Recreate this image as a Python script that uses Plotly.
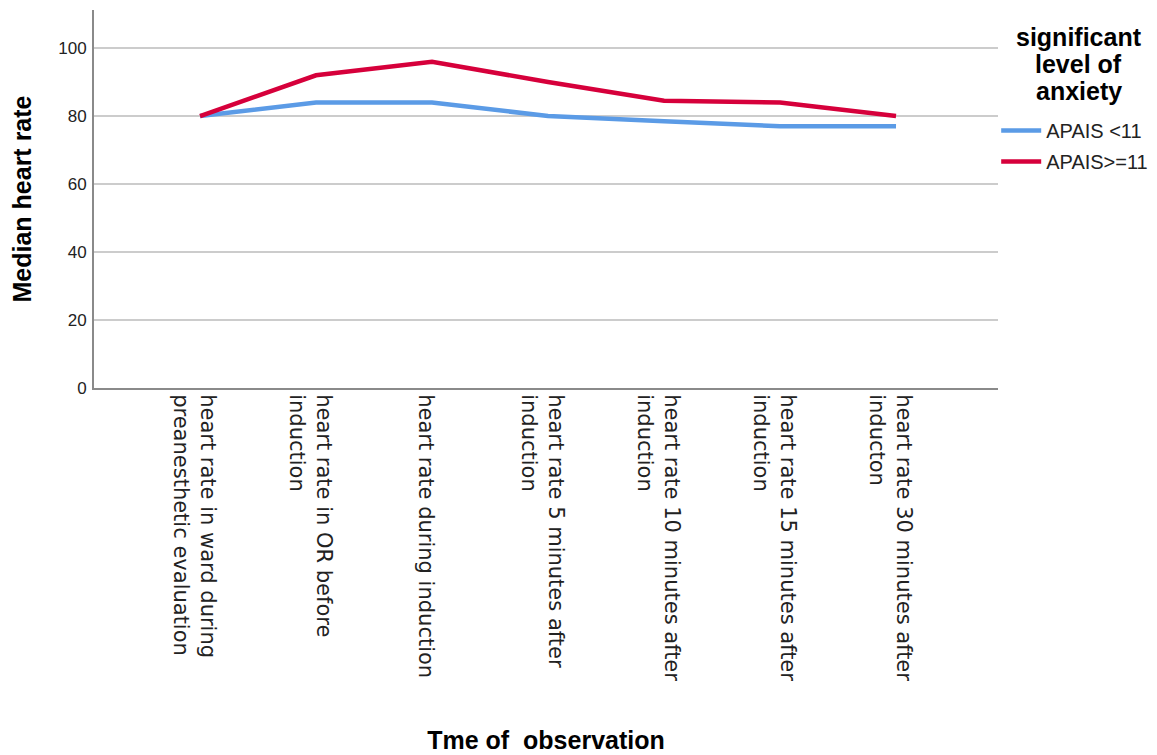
import plotly.graph_objects as go

categories = [
    "heart rate in ward during<br>preanesthetic evaluation",
    "heart rate in OR before<br>induction",
    "heart rate during induction",
    "heart rate 5 minutes after<br>induction",
    "heart rate 10 minutes after<br>induction",
    "heart rate 15 minutes after<br>induction",
    "heart rate 30 minutes after<br>inducton",
]
apais_low = [80, 84, 84, 80, 78.5, 77, 77]
apais_high = [80, 92, 96, 90, 84.5, 84, 80]
series_names = ["APAIS <11", "APAIS>=11"]
legend_title_lines = ["significant", "level of", "anxiety"]
y_ticks = [0, 20, 40, 60, 80, 100]

BLUE = "#5b9be6"
RED = "#d6003b"
FONT = "Liberation Sans, Arial, sans-serif"

fig = go.Figure()
fig.add_trace(go.Scatter(x=categories, y=apais_low, mode="lines", name=series_names[0],
                         legendgroup="a", line=dict(color=BLUE, width=4.5)))
fig.add_trace(go.Scatter(x=categories, y=apais_high, mode="lines", name=series_names[1],
                         legendgroup="b", line=dict(color=RED, width=4.5)))

# legend title lines drawn as centred annotations
for txt, yp in zip(legend_title_lines, [0.9286, 0.8571, 0.7857]):
    fig.add_annotation(text=f"<b>{txt}</b>", xref="paper", yref="paper",
                       x=1.0896, y=yp, xanchor="center", yanchor="middle",
                       showarrow=False, font=dict(size=25, family=FONT, color="#000"))

fig.update_layout(
    width=1157, height=755,
    margin=dict(l=86, r=167, t=2, b=375, autoexpand=False),
    plot_bgcolor="white", paper_bgcolor="white",
    font=dict(family=FONT, color="#000000"),
    showlegend=True,
    legend=dict(
        x=0.998, xanchor="left", y=0.733, yanchor="top",
        font=dict(size=20, family=FONT, color="#222"),
        itemwidth=40, tracegroupgap=2, bgcolor="rgba(0,0,0,0)",
    ),
    xaxis=dict(
        type="category",
        range=[-0.914, 6.879],
        showline=True, linecolor="#8a8a8a", linewidth=2,
        showgrid=False, zeroline=False,
        tickangle=90,
        tickfont=dict(size=21, family="DejaVu Sans, sans-serif", color="#222"),
        ticklabelshift=-6,
        ticks="", automargin=False,
        title=dict(text="<b>Tme of  observation</b>", standoff=51,
                   font=dict(size=25, family=FONT)),
    ),
    yaxis=dict(
        range=[0, 111.2],
        tickvals=y_ticks,
        showline=True, linecolor="#8a8a8a", linewidth=2,
        showgrid=True, gridcolor="#cccccc", gridwidth=1.5,
        zeroline=False,
        ticks="outside", ticklen=2, tickcolor="rgba(0,0,0,0)",
        tickfont=dict(size=17, color="#222"),
        automargin=False,
        title=dict(text="<b>Median heart rate</b>", standoff=20,
                   font=dict(size=25, family=FONT)),
    ),
)

fig.write_html("out.html")
